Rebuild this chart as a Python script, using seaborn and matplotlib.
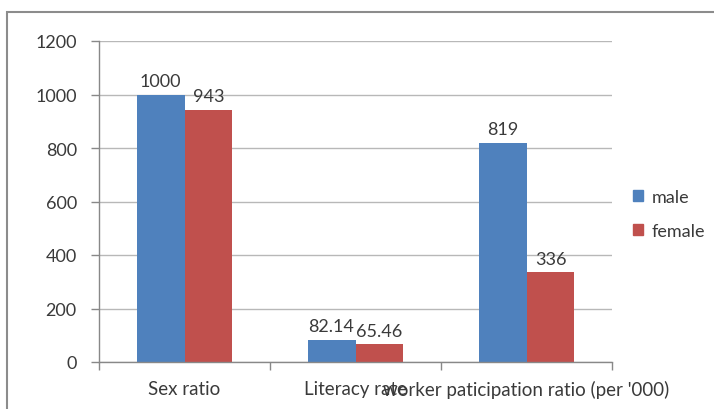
import matplotlib
matplotlib.use("Agg")
import matplotlib.pyplot as plt
import matplotlib.patches as mpatches
import seaborn as sns
import pandas as pd

categories = ["Sex ratio", "Literacy rate", "worker paticipation ratio (per '000)"]
male = [1000, 82.14, 819]
female = [943, 65.46, 336]
male_labels = ["1000", "82.14", "819"]
female_labels = ["943", "65.46", "336"]
y_ticks = [0, 200, 400, 600, 800, 1000, 1200]

df = pd.DataFrame({
    "category": categories * 2,
    "value": male + female,
    "sex": ["male"] * 3 + ["female"] * 3,
})

sns.set_theme(style="white")
plt.rcParams["font.family"] = ["Lato", "DejaVu Sans"]

text_color = "#3a3a3a"

fig = plt.figure(figsize=(7.14, 4.10), dpi=100)
ax = fig.add_axes([99 / 714, 1 - 363 / 410, (612 - 99) / 714, (363 - 42) / 410])

palette = {"male": "#4F81BD", "female": "#C0504D"}
sns.barplot(data=df, x="category", y="value", hue="sex", palette=palette,
            width=0.56, saturation=1, ax=ax, legend=False, edgecolor="none")

# value labels above each bar
for container, labels in zip(ax.containers, [male_labels, female_labels]):
    ax.bar_label(container, labels=labels, padding=4, fontsize=13, color=text_color)

ax.set_ylim(0, 1200)
ax.set_xlim(-0.5, 2.5)
ax.set_yticks(y_ticks)
ax.set_yticklabels([str(v) for v in y_ticks], fontsize=13, color=text_color)
ax.yaxis.grid(True, color="#b8b8b8", linewidth=1)
ax.set_axisbelow(True)

ax.set_xticks([0, 1, 2])
ax.set_xticklabels(categories, fontsize=13.5, color=text_color)
ax.set_xticks([-0.5, 0.5, 1.5, 2.5], minor=True)
ax.tick_params(axis="x", which="major", length=0, pad=13)
ax.tick_params(axis="x", which="minor", length=6, color="#888888", width=1, direction="out", bottom=True)
ax.tick_params(axis="y", length=6, color="#888888", width=1, direction="out", left=True, pad=10)
ax.set_xlabel("")
ax.set_ylabel("")

for side in ["top", "right"]:
    ax.spines[side].set_visible(False)
for side in ["left", "bottom"]:
    ax.spines[side].set_color("#888888")
    ax.spines[side].set_linewidth(1)

handles = [mpatches.Patch(color=palette["male"], label="male"),
           mpatches.Patch(color=palette["female"], label="female")]
fig.legend(handles=handles, loc="center left", bbox_to_anchor=(617 / 714, 1 - 215 / 410),
           frameon=False, fontsize=13, handlelength=0.55, handleheight=0.55,
           handletextpad=0.45, labelspacing=1.0, labelcolor=text_color)

# chart area border
fig.patches.append(mpatches.Rectangle((7 / 714, -0.1), 1.2, 1 - 13 / 410 + 0.1,
                                      transform=fig.transFigure, fill=False,
                                      edgecolor="#8c8c8c", linewidth=1.5))

fig.savefig("out.png", dpi=100)
